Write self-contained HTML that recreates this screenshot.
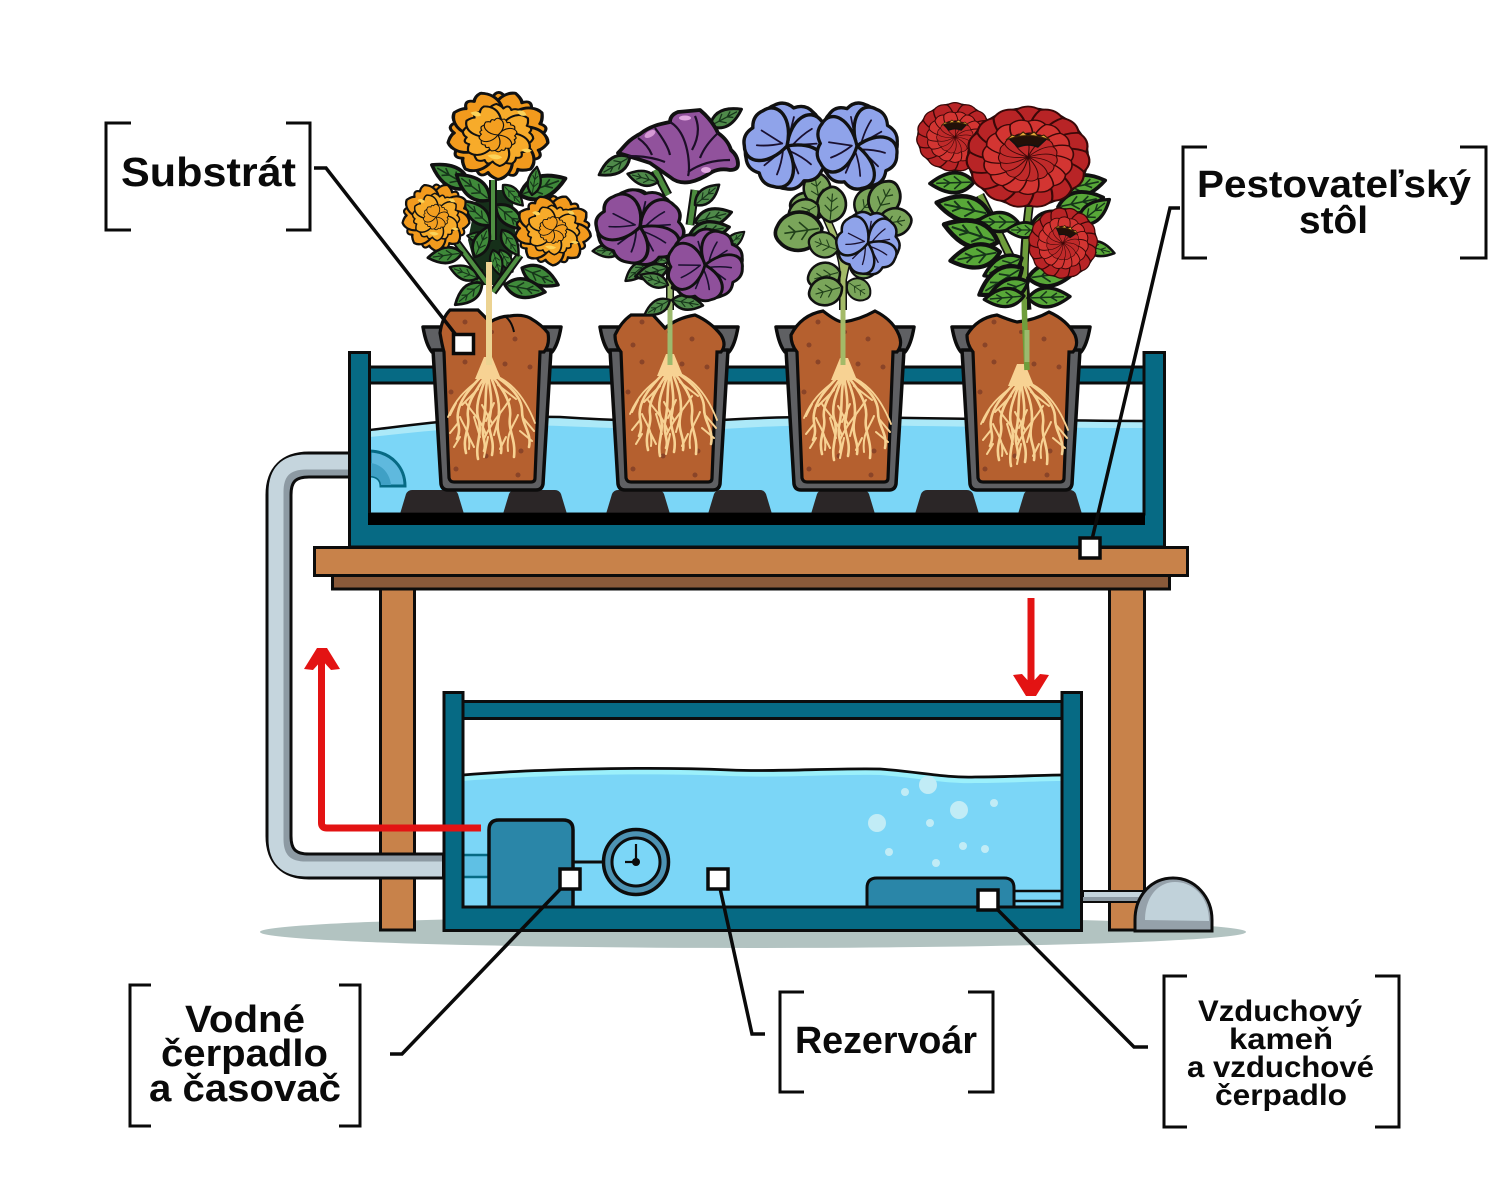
<!DOCTYPE html>
<html lang="sk"><head><meta charset="utf-8"><title>Hydroponický systém</title>
<style>html,body{margin:0;padding:0;background:#fff}svg{display:block}text{font-family:"Liberation Sans",sans-serif;font-weight:700;fill:#0a0a0a}</style></head>
<body>
<svg width="1500" height="1192" viewBox="0 0 1500 1192" xmlns="http://www.w3.org/2000/svg">
<defs>
<path id="mp" d="M0,0C-26,-12 -30,-36 -16,-45Q-8,-44 -5,-41Q0,-50 6,-42Q10,-46 16,-45C30,-34 26,-12 0,0Z" stroke="#111" stroke-width="3" stroke-linejoin="round"/>
<g id="mr9"><use href="#mp"/><use href="#mp" transform="rotate(40)"/><use href="#mp" transform="rotate(80)"/><use href="#mp" transform="rotate(120)"/><use href="#mp" transform="rotate(160)"/><use href="#mp" transform="rotate(200)"/><use href="#mp" transform="rotate(240)"/><use href="#mp" transform="rotate(280)"/><use href="#mp" transform="rotate(320)"/></g>
<g id="mr6"><use href="#mp"/><use href="#mp" transform="rotate(60)"/><use href="#mp" transform="rotate(120)"/><use href="#mp" transform="rotate(180)"/><use href="#mp" transform="rotate(240)"/><use href="#mp" transform="rotate(300)"/></g>
<g id="mg">
 <circle r="42" fill="#111"/>
 <g fill="#f29a1d"><use href="#mr9"/></g>
 <g fill="#f7ab2a" transform="rotate(17) scale(.7)"><use href="#mr6"/></g>
 <g fill="#f49f20" transform="rotate(40) scale(.38)"><use href="#mr6"/></g>
 <path fill="#fbd35a" d="M-26,-24q8,-4 10,3q-6,3 -10,-3ZM18,-26q7,-2 9,5q-7,2 -9,-5ZM-10,22q8,-3 14,2q-7,5 -14,-2ZM22,16q6,-3 10,1q-5,4 -10,-1Z"/>
</g>
<path id="ptp" d="M0,0C-30,-8 -40,-32 -22,-42Q-12,-50 0,-43Q12,-50 22,-42C40,-32 30,-8 0,0Z" fill="currentColor" stroke="#111" stroke-width="3.8" stroke-linejoin="round"/>
<g id="ptv" fill="none" stroke="#1a1030" stroke-width="2" stroke-linecap="round"><path d="M0,-6Q-10,-18 -15,-30M0,-6Q1,-20 2,-33"/></g>
<g id="pt">
 <use href="#ptp"/><use href="#ptv"/>
 <use href="#ptp" transform="rotate(72)"/><use href="#ptv" transform="rotate(72)"/>
 <use href="#ptp" transform="rotate(144)"/><use href="#ptv" transform="rotate(144)"/>
 <use href="#ptp" transform="rotate(216)"/><use href="#ptv" transform="rotate(216)"/>
 <use href="#ptp" transform="rotate(288)"/><use href="#ptv" transform="rotate(288)"/>
</g>
<path id="zp" d="M0,0Q-17,-30 -10,-47Q0,-54 10,-47Q17,-30 0,0Z" stroke="#3a0808" stroke-width="1.8" stroke-linejoin="round"/>
<g id="zp4"><use href="#zp"/><use href="#zp" transform="rotate(24)"/><use href="#zp" transform="rotate(48)"/></g>
<g id="zp15"><use href="#zp4"/><use href="#zp4" transform="rotate(72)"/><use href="#zp4" transform="rotate(144)"/><use href="#zp4" transform="rotate(216)"/><use href="#zp4" transform="rotate(288)"/></g>
<g id="zn">
 <circle r="50" fill="#111"/>
 <g fill="#b82426"><use href="#zp15"/></g>
 <g fill="#d33532" transform="rotate(12) scale(.74)"><use href="#zp15"/></g>
 <g fill="#c02a2a" transform="rotate(4) scale(.48)"><use href="#zp15"/></g>
 <path d="M-15,-18Q0,-28 15,-18L8,-10Q0,-14 -8,-10Z" fill="#221008" stroke="#111" stroke-width="1.5"/>
 <path d="M-18,-17l5,-5 4,2 5,-5 4,4 5,-4 4,5 4,-2 5,5Q0,-26 -18,-17Z" fill="#e6a93a" stroke="#3a2206" stroke-width="1"/>
</g>
<g id="lf" stroke-linejoin="round"><path d="M0,0Q16,-19 42,0Q16,19 0,0Z" fill="currentColor" stroke="#111" stroke-width="3.4"/><path d="M3,0H36M12,0l7,-6M12,0l7,6M23,0l6,-4M23,0l6,4" stroke="#16351a" stroke-width="1.5" fill="none"/></g>
<g id="rl" stroke-linejoin="round"><path d="M0,0C6,-24 34,-24 44,-8Q50,0 44,8C34,24 6,24 0,0Z" fill="currentColor" stroke="#111" stroke-width="3.6"/><path d="M3,0H38M14,0l8,-9M14,0l8,9M27,0l6,-7M27,0l6,7" stroke="#20401a" stroke-width="1.6" fill="none"/></g>
<g id="rt" fill="none" stroke="#f7d293" stroke-width="2.6" stroke-linecap="round">
 <path d="M-4,-8H4L13,14H-13Z" fill="#f7d293" stroke="none"/>
 <path stroke-width="1.8" d="M-3,8C-12,20 -28,24 -40,52M3,8C14,14 32,20 47,58"/>
 <path d="M-4,8C-14,20 -28,32 -30,48C-32,58 -26,62 -31,74M-2,10C-12,26 -22,38 -20,52C-18,64 -26,72 -22,88M-1,10C-8,28 -14,42 -9,56C-6,70 -13,80 -10,94M0,10C-4,30 -1,44 -5,60C-7,72 -1,78 -4,86M0,10C3,28 5,40 1,56C0,68 7,74 4,90M2,10C9,26 13,40 10,56C8,70 15,76 13,88M2,8C13,22 24,36 22,52C20,66 28,74 26,92M3,8C18,18 34,30 34,46C34,60 44,68 41,82"/>
 <path stroke-width="2" d="M-22,38C-14,50 -6,56 -2,70M22,34C12,50 4,56 -4,74M-28,52C-24,62 -17,68 -19,84M30,50C25,62 18,68 20,86M-30,58L-38,68M-10,24L-26,40M10,20L28,34M-28,72L-34,82M32,66L44,76M-14,52L-8,72M12,48L6,70M-6,40L4,58M6,38L-2,56M-20,70L-14,82M18,72L12,84M0,72L-4,92M-32,38L-38,50M36,54L46,66"/>
</g>
<g id="pot" stroke="#0c0c0c" stroke-width="3.5" stroke-linejoin="round">
 <path fill="#5f6063" d="M-69,327H-45V352H-60Q-66,345 -69,327ZM69,327H45V352H60Q66,345 69,327Z"/>
 <path fill="#5f6063" d="M-59,350L-51,484Q-50,490 -44,490H44Q50,490 51,484L59,350Z"/>
</g>
<g id="sp" fill="#8a4428">
 <circle cx="-27" cy="322" r="2.5"/><circle cx="-27" cy="362" r="2.5"/><circle cx="13" cy="364" r="2.5"/><circle cx="23" cy="339" r="2.5"/><circle cx="38" cy="367" r="2.5"/><circle cx="-41" cy="392" r="2.5"/><circle cx="-6" cy="456" r="2.5"/><circle cx="29" cy="451" r="2.5"/><circle cx="-36" cy="469" r="2.5"/><circle cx="26" cy="475" r="2.5"/><circle cx="-36" cy="345" r="2.5"/><circle cx="0" cy="332" r="2"/>
</g>
<path id="foot" d="M-20,490H20Q24,490 26,494L32,514H-32L-26,494Q-24,490 -20,490Z" fill="#2b2627"/>
</defs>

<rect width="1500" height="1192" fill="#fff"/>
<ellipse cx="753" cy="932" rx="493" ry="16" fill="#b2c3c1"/>

<!-- Table legs -->
<rect x="380.5" y="587" width="34" height="343" fill="#c8824a" stroke="#0c0c0c" stroke-width="3"/>
<rect x="1109.5" y="587" width="35" height="343" fill="#c8824a" stroke="#0c0c0c" stroke-width="3"/>

<!-- Upper tank -->
<rect x="368" y="367" width="777" height="16" fill="#066a84" stroke="#0c0c0c" stroke-width="3"/>
<path d="M370,430C420,424 480,415 560,417C620,421 680,423 740,419C830,414 950,420 1143,421V514H370Z" fill="#7bd6f7"/>
<path d="M370,430C420,424 480,415 560,417C620,421 680,423 740,419C830,414 950,420 1143,421V428C950,428 830,422 740,428C680,432 620,428 560,426C480,424 420,432 370,437Z" fill="#ace9f8"/>
<path d="M370,430C420,424 480,415 560,417C620,421 680,423 740,419C830,414 950,420 1143,421" fill="none" stroke="#0c0c0c" stroke-width="2.5"/>

<!-- Spout -->
<path d="M370,451C392,452 405,468 405,486H381C381,480 377,476 370,476Z" fill="#5fb9de" stroke="#066a84" stroke-width="3"/>
<path d="M370,463C382,464 390,474 391,485H381C381,480 377,476 370,476Z" fill="#3fa0c5"/>

<!-- Feet -->
<use href="#foot" x="432"/><use href="#foot" x="535"/><use href="#foot" x="638"/><use href="#foot" x="740"/><use href="#foot" x="843"/><use href="#foot" x="947"/><use href="#foot" x="1050"/>

<!-- Tank walls -->
<path d="M349.5,352.5H369.5V514H1144V352.5H1164.5V547H349.5Z" fill="#066a84" stroke="#0c0c0c" stroke-width="3"/>
<rect x="368" y="513" width="777" height="12" fill="#000"/>

<!-- Pipe -->
<path d="M348,465H309Q279,465 279,495V836Q279,866 309,866H443" fill="none" stroke="#0c0c0c" stroke-width="27"/>
<path d="M348,465H309Q279,465 279,495V836Q279,866 309,866H442" fill="none" stroke="#8d9aa3" stroke-width="21"/>
<path d="M348,462H306Q276,462 276,492V839Q276,869 306,869H442" fill="none" stroke="#c5d5dd" stroke-width="15"/>

<!-- Table top -->
<rect x="332.5" y="573" width="837" height="16" fill="#8a5a3a" stroke="#0c0c0c" stroke-width="3"/>
<rect x="314.5" y="547.5" width="873" height="28" fill="#c8824a" stroke="#0c0c0c" stroke-width="3"/>

<!-- Pots -->
<g transform="translate(492,0)"><use href="#pot"/><path d="M-52,333Q-50,318 -42,310H-14L-2,322Q8,316 18,316Q30,314 38,318Q50,325 56,333Q58,345 52,352H48L43,478Q43,482 39,482H-38Q-42,482 -43,478L-48,352Q-50,345 -52,333Z" fill="#b5602f" stroke="#0c0c0c" stroke-width="3.2"/><path d="M14,317Q20,322 22,332" fill="none" stroke="#0c0c0c" stroke-width="2"/><use href="#sp"/><use href="#rt" x="-4" y="365"/></g>
<g transform="translate(669,0)"><use href="#pot"/><path d="M-54,335Q-48,322 -38,315H-16L-4,328Q8,318 26,315Q42,322 52,335Q58,345 52,352H48L43,478Q43,482 39,482H-38Q-42,482 -43,478L-48,352Q-54,345 -54,335Z" fill="#b5602f" stroke="#0c0c0c" stroke-width="3.2"/><use href="#sp"/><use href="#rt" x="1" y="362"/></g>
<g transform="translate(845,0)"><use href="#pot"/><path d="M-54,335Q-44,315 -22,311Q-8,322 -2,322Q14,320 30,311Q48,320 54,335Q58,345 52,352H48L43,478Q43,482 39,482H-38Q-42,482 -43,478L-48,352Q-54,345 -54,335Z" fill="#b5602f" stroke="#0c0c0c" stroke-width="3.2"/><use href="#sp"/><use href="#rt" x="-1" y="366"/></g>
<g transform="translate(1021,0)"><use href="#pot"/><path d="M-54,335Q-44,318 -24,315Q-12,320 -4,322Q14,320 28,312Q46,320 54,335Q58,345 52,352H48L43,478Q43,482 39,482H-38Q-42,482 -43,478L-48,352Q-54,345 -54,335Z" fill="#b5602f" stroke="#0c0c0c" stroke-width="3.2"/><use href="#sp"/><use href="#rt" y="372"/></g>

<!-- Marigold plant -->
<g color="#3f8a3a">
 <path d="M478,190H512L516,240L505,285L480,285L468,240Z" fill="#16301a"/>
 <use href="#lf" transform="translate(490,225) rotate(222) scale(.85)"/>
 <use href="#lf" transform="translate(492,240) rotate(190) scale(.6)"/>
 <use href="#lf" transform="translate(496,205) rotate(40) scale(.9)"/>
 <use href="#lf" transform="translate(500,250) rotate(60) scale(.6)"/>
 <use href="#lf" transform="translate(482,270) rotate(115) scale(.55)"/>
 <use href="#lf" transform="translate(470,187) rotate(210) scale(1.05)"/>
 <use href="#lf" transform="translate(490,200) rotate(217) scale(1)"/>
 <use href="#lf" transform="translate(503,185) rotate(46) scale(.68)"/>
 <use href="#lf" transform="translate(520,195) rotate(-20) scale(1.15)"/>
 <use href="#lf" transform="translate(532,195) rotate(-80) scale(.68)"/>
 <path d="M455,240L487,283M520,255L493,292M493,180V240" fill="none" stroke="#111" stroke-width="8"/>
 <path d="M455,240L487,283M520,255L493,292M493,180V240" fill="none" stroke="#4f8f42" stroke-width="4"/>
 <use href="#lf" transform="translate(475,257) rotate(-66) scale(.8)"/>
 <use href="#lf" transform="translate(502,230) rotate(57) scale(.72)"/>
 <use href="#lf" transform="translate(493,250) rotate(74) scale(.62)"/>
 <use href="#lf" transform="translate(462,253) rotate(172) scale(.82)"/>
 <use href="#lf" transform="translate(478,278) rotate(201) scale(.72)"/>
 <use href="#lf" transform="translate(482,283) rotate(141) scale(.82)"/>
 <use href="#lf" transform="translate(522,268) rotate(25) scale(.95)"/>
 <use href="#lf" transform="translate(505,285) rotate(10) scale(.97)"/>
 <path d="M489,262V365" stroke="#ecd392" stroke-width="6"/>
 <use href="#mg" transform="translate(498,135) scale(1.06,.93)"/>
 <use href="#mg" transform="translate(436,217) scale(.71)"/>
 <use href="#mg" transform="translate(553,230) scale(.8,.74)"/>
</g>

<!-- Purple plant -->
<g color="#4f8a4a">
 <path d="M670,250V310" stroke="#111" stroke-width="8"/>
 <path d="M670,365V250" stroke="#9cba6e" stroke-width="5"/>
 <path d="M655,170L668,195M695,190L690,225" stroke="#111" stroke-width="9"/><path d="M655,170L668,195M695,190L690,225" stroke="#4d8c3f" stroke-width="5"/>
 <use href="#lf" transform="translate(630,157) rotate(150) scale(.85)"/>
 <use href="#lf" transform="translate(710,126) rotate(-28) scale(.85)"/>
 <use href="#lf" transform="translate(658,182) rotate(195) scale(.75)"/>
 <use href="#lf" transform="translate(650,200) rotate(-150) scale(.5)"/>
 <use href="#lf" transform="translate(695,205) rotate(-40) scale(.75)"/>
 <use href="#lf" transform="translate(695,222) rotate(-15) scale(.9)"/>
 <use href="#lf" transform="translate(690,234) rotate(-10) scale(.95)"/>
 <use href="#lf" transform="translate(725,248) rotate(-40) scale(.6)"/>
 <use href="#lf" transform="translate(622,250) rotate(178) scale(.7)"/>
 <use href="#lf" transform="translate(648,262) rotate(140) scale(.7)"/>
 <use href="#lf" transform="translate(668,268) rotate(165) scale(.8)"/>
 <use href="#lf" transform="translate(668,285) rotate(200) scale(.7)"/>
 <use href="#lf" transform="translate(672,288) rotate(-25) scale(.8)"/>
 <use href="#lf" transform="translate(670,300) rotate(150) scale(.7)"/>
 <use href="#lf" transform="translate(672,300) rotate(10) scale(.75)"/>
 <use href="#lf" transform="translate(668,262) rotate(-160) scale(.5)"/>
 <path d="M618,153C625,146 628,140 640,134C650,126 660,124 670,122Q670,115 678,112L700,110Q712,120 718,133Q728,140 731,150Q738,156 738,164Q738,170 730,170Q720,168 712,172Q700,180 690,182Q678,184 670,177Q660,170 650,163Q635,158 618,153Z" fill="#91529c" stroke="#111" stroke-width="3.8" stroke-linejoin="round"/>
 <path d="M670,122Q684,130 688,155Q690,170 688,176M638,138Q648,145 652,155M655,128Q668,145 670,155M695,116Q702,132 692,150M718,133Q705,145 700,158M730,160Q705,160 688,172M628,156Q650,156 665,162" fill="none" stroke="#1d0f28" stroke-width="2.2"/>
 <ellipse cx="650" cy="134" rx="6" ry="3" fill="#d79ad6" transform="rotate(-30 650 134)"/><ellipse cx="685" cy="118" rx="6" ry="2.5" fill="#e0a8e0"/><ellipse cx="706" cy="170" rx="5" ry="3" fill="#e0a8e0"/>
 <use href="#pt" transform="translate(640,227) rotate(8) scale(.92,.78)" color="#8f509b"/>
 <use href="#pt" transform="translate(705,265) rotate(-20) scale(.8,.74)" color="#8f509b"/>
</g>

<!-- Blue plant -->
<g color="#7aa55a">
 <path d="M843,310V270C840,240 825,220 815,190M843,280Q850,240 870,210" fill="none" stroke="#111" stroke-width="8"/>
 <path d="M843,365V270C840,240 825,220 815,190M843,280Q850,240 870,210" fill="none" stroke="#a3ba68" stroke-width="5"/>
 <use href="#rl" transform="translate(825,210) rotate(190) scale(.75)"/>
 <use href="#rl" transform="translate(820,205) rotate(-100) scale(.7)"/>
 <use href="#rl" transform="translate(830,222) rotate(-85) scale(.75)"/>
 <use href="#rl" transform="translate(858,215) rotate(-50) scale(.7)"/>
 <use href="#rl" transform="translate(860,215) rotate(70) scale(.6)"/>
 <use href="#rl" transform="translate(875,215) rotate(-60) scale(.8)"/>
 <use href="#rl" transform="translate(818,205) rotate(150) scale(.7)"/>
 <use href="#rl" transform="translate(822,228) rotate(172) scale(1)"/>
 <use href="#rl" transform="translate(878,225) rotate(-10) scale(.72)"/>
 <use href="#rl" transform="translate(838,250) rotate(200) scale(.65)"/>
 <use href="#rl" transform="translate(840,272) rotate(165) scale(.7)"/>
 <use href="#rl" transform="translate(842,287) rotate(165) scale(.72)"/>
 <use href="#rl" transform="translate(848,282) rotate(35) scale(.55)"/>
 <use href="#rl" transform="translate(850,268) rotate(-5) scale(.6)"/>
 <use href="#pt" transform="translate(787,146) rotate(10) scale(.9)" color="#8fa3ea"/>
 <use href="#pt" transform="translate(857,146) rotate(-15) scale(.85,.9)" color="#8fa3ea"/>
 <use href="#pt" transform="translate(868,243) rotate(5) scale(.66)" color="#8fa3ea"/>
</g>

<!-- Zinnia plant -->
<g color="#58a838">
 <path d="M1027,310L1025,290Q1022,260 1030,200M980,195L1012,260" fill="none" stroke="#111" stroke-width="9"/>
 <path d="M1027,370L1025,330Q1022,260 1030,200M980,195L1012,260" fill="none" stroke="#6f9e3c" stroke-width="5.5"/>
 <use href="#lf" transform="translate(974,182) rotate(178) scale(1.05)"/>
 <use href="#lf" transform="translate(990,214) rotate(192) scale(1.3)"/>
 <use href="#lf" transform="translate(1018,222) rotate(180) scale(1)"/>
 <use href="#lf" transform="translate(998,242) rotate(198) scale(1.35)"/>
 <use href="#lf" transform="translate(1000,252) rotate(170) scale(1.2)"/>
 <use href="#lf" transform="translate(1022,258) rotate(155) scale(1)"/>
 <use href="#lf" transform="translate(1060,190) rotate(-12) scale(1.1)"/>
 <use href="#lf" transform="translate(1058,207) rotate(-12) scale(1.1)"/>
 <use href="#lf" transform="translate(1078,224) rotate(-38) scale(.95)"/>
 <use href="#lf" transform="translate(1084,245) rotate(15) scale(.75)"/>
 <use href="#lf" transform="translate(1030,228) rotate(-20) scale(1)"/>
 <use href="#lf" transform="translate(1040,230) rotate(180) scale(.8)"/>
 <use href="#lf" transform="translate(1022,268) rotate(148) scale(1.2)"/>
 <use href="#lf" transform="translate(1028,282) rotate(158) scale(1.05)"/>
 <use href="#lf" transform="translate(1024,296) rotate(175) scale(.95)"/>
 <use href="#lf" transform="translate(1028,298) rotate(-2) scale(1)"/>
 <use href="#lf" transform="translate(1028,278) rotate(-8) scale(1.15)"/>
 <use href="#zn" transform="translate(955,137) scale(.76,.68)"/>
 <use href="#zn" transform="translate(1028,157) scale(1.22,1.0)"/>
 <use href="#zn" transform="translate(1063,243) rotate(15) scale(.68,.7)"/>
 <path d="M1027,362V330" stroke="#9cba6e" stroke-width="5"/>
</g>

<!-- Lower tank -->
<path d="M463,775C520,770 640,766 730,770C780,772 830,768 880,769C920,772 945,778 975,777C1010,777 1040,775 1062,775V908H463Z" fill="#7bd6f7"/>
<path d="M463,775C520,770 640,766 730,770C780,772 830,768 880,769C920,772 945,778 975,777C1010,777 1040,775 1062,775V781C1040,781 1010,783 975,783C945,784 920,778 880,775C830,774 780,778 730,776C640,772 520,776 463,781Z" fill="#9bf0fb"/>
<path d="M463,775C520,770 640,766 730,770C780,772 830,768 880,769C920,772 945,778 975,777C1010,777 1040,775 1062,775" fill="none" stroke="#0c0c0c" stroke-width="2.8"/>
<g fill="#c1ecf6"><circle cx="928" cy="785" r="9"/><circle cx="905" cy="792" r="4"/><circle cx="959" cy="810" r="9"/><circle cx="994" cy="803" r="4"/><circle cx="877" cy="823" r="9"/><circle cx="930" cy="823" r="4"/><circle cx="889" cy="852" r="4"/><circle cx="963" cy="846" r="4"/><circle cx="985" cy="849" r="4"/><circle cx="936" cy="863" r="4"/></g>
<rect x="463" y="701.5" width="600" height="17" fill="#066a84" stroke="#0c0c0c" stroke-width="3"/>
<path d="M463,855H490V877H463Z" fill="#5fc0e4"/><path d="M463,855H490M463,877H490" stroke="#066a84" stroke-width="2.5"/>
<path d="M489,908V830Q489,820 499,820H563Q573,820 573,830V908Z" fill="#2a86a8" stroke="#0c0c0c" stroke-width="3.5"/>
<path d="M574,862H604" stroke="#0c0c0c" stroke-width="3"/>
<circle cx="636" cy="862" r="32.5" fill="#4d93b3" stroke="#0c0c0c" stroke-width="3.5"/>
<circle cx="636" cy="862" r="24" fill="#7bd6f7" stroke="#0c0c0c" stroke-width="3"/>
<path d="M636,844V862H625" fill="none" stroke="#0c0c0c" stroke-width="2.2"/><circle cx="636" cy="862" r="4" fill="#0c0c0c"/>
<path d="M1012,891H1063M1012,901H1063" stroke="#0c0c0c" stroke-width="2.5"/><path d="M1012,896H1063M1012,904H1063" stroke="#7bd6f7" stroke-width="3"/>
<path d="M867,908V888Q867,878 877,878H1004Q1014,878 1014,888V908Z" fill="#2a86a8" stroke="#0c0c0c" stroke-width="3"/>
<path d="M444,692.5H463V907H1062V692.5H1081.5V930.5H444Z" fill="#066a84" stroke="#0c0c0c" stroke-width="3"/>

<!-- Air stone -->
<rect x="1083" y="891" width="60" height="11" fill="#c5d5dd" stroke="#0c0c0c" stroke-width="2"/>
<rect x="1083" y="897" width="60" height="4" fill="#8d9aa3"/>
<path d="M1135,931V920C1135,895 1152,878 1173,878C1195,878 1212,897 1212,920V931Z" fill="#95a1aa" stroke="#0c0c0c" stroke-width="3"/>
<path d="M1145,920C1145,897 1158,882 1175,882C1194,882 1209,898 1209,921Z" fill="#c1d2da"/>

<!-- Red arrows -->
<g fill="none" stroke="#e31313" stroke-width="7" stroke-linejoin="round">
 <path d="M481,828H327Q321.5,828 321.5,823V655"/>
 <path d="M1031,598V688"/>
</g>
<path d="M317,648H327L340,669L331,670L322,660L313,670L304,669Z" fill="#e31313"/>
<path d="M1026,696H1036L1049,675L1040,674L1031,684L1022,674L1013,675Z" fill="#e31313"/>

<!-- Leaders -->
<g fill="none" stroke="#0a0a0a" stroke-width="3.5">
 <path d="M314,168H326L463,344"/>
 <path d="M1180,208H1170L1090,548"/>
 <path d="M390,1054H402L570,879"/>
 <path d="M765,1034H752L718,879"/>
 <path d="M1148,1047H1134L988,900"/>
</g>
<g fill="#fff" stroke="#0a0a0a" stroke-width="3.5">
 <rect x="453.5" y="334.5" width="20" height="19"/>
 <rect x="1080" y="538" width="20" height="20"/>
 <rect x="560" y="869" width="20" height="20"/>
 <rect x="708" y="869" width="20" height="20"/>
 <rect x="978" y="890" width="20" height="20"/>
</g>

<!-- Brackets -->
<g fill="none" stroke="#0a0a0a" stroke-width="3">
 <path d="M131,123H106V230H131M286,123H310V230H286"/>
 <path d="M1207,147H1183V258H1207M1460,147H1486V258H1460"/>
 <path d="M151,985H130V1126H151M339,985H360V1126H339"/>
 <path d="M804,992H780V1092H804M968,992H993V1092H968"/>
 <path d="M1187,976H1164V1127H1187M1375,976H1399V1127H1375"/>
</g>

<!-- Labels -->
<text x="121" y="186" font-size="41" textLength="175" lengthAdjust="spacingAndGlyphs">Substrát</text>
<text x="1197" y="197" font-size="38" textLength="274" lengthAdjust="spacingAndGlyphs">Pestovateľský</text>
<text x="1299" y="233" font-size="38" textLength="69" lengthAdjust="spacingAndGlyphs">stôl</text>
<text x="185" y="1032" font-size="38" textLength="120" lengthAdjust="spacingAndGlyphs">Vodné</text>
<text x="161" y="1066" font-size="38" textLength="167" lengthAdjust="spacingAndGlyphs">čerpadlo</text>
<text x="149" y="1101" font-size="38" textLength="192" lengthAdjust="spacingAndGlyphs">a časovač</text>
<text x="795" y="1053" font-size="38" textLength="182" lengthAdjust="spacingAndGlyphs">Rezervoár</text>
<text x="1198" y="1021" font-size="30" textLength="164" lengthAdjust="spacingAndGlyphs">Vzduchový</text>
<text x="1229" y="1049" font-size="30" textLength="104" lengthAdjust="spacingAndGlyphs">kameň</text>
<text x="1187" y="1077" font-size="30" textLength="187" lengthAdjust="spacingAndGlyphs">a vzduchové</text>
<text x="1215" y="1105" font-size="30" textLength="132" lengthAdjust="spacingAndGlyphs">čerpadlo</text>
</svg>
</body></html>
